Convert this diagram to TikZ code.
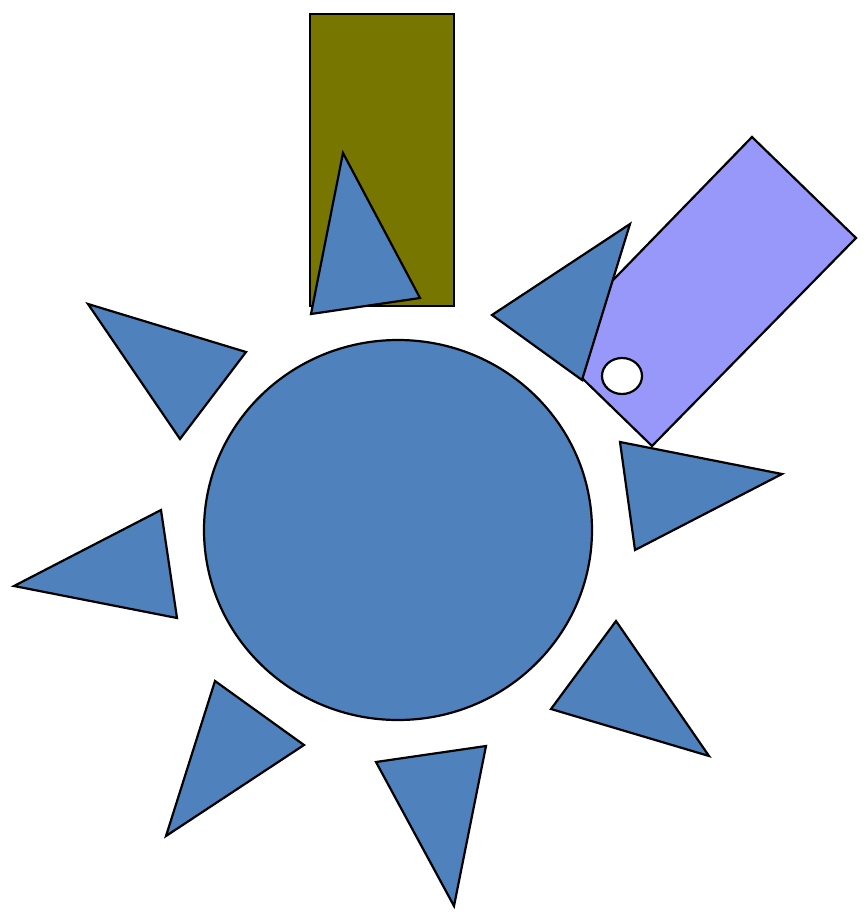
\documentclass[tikz,border=0pt]{standalone}
\usepackage{xcolor}
\usepackage{tikz}

\definecolor{sunblue}{RGB}{79,129,189}
\definecolor{boxolive}{RGB}{118,118,0}
\definecolor{taglilac}{RGB}{152,152,250}

\begin{document}
\begin{tikzpicture}[
    x=1pt, y=-1pt,
    ray/.style={draw, fill=sunblue, line width=2.2pt, line join=miter},
    panel/.style={draw, line width=2.2pt, line join=miter}
]
\useasboundingbox (0,0) rectangle (867,915);

% olive panel with the upper ray
\draw[panel, fill=boxolive] (310,14) rectangle (454,306);
\draw[ray] (343,153) -- (420,298) -- (311,314) -- cycle;

% sun disc
\draw[ray] (398,530) ellipse [x radius=194, y radius=190];

% rays round the disc
\draw[ray] (88,304) -- (246,352) -- (180,439) -- cycle;
\draw[ray] (14,586) -- (161,510) -- (177,618) -- cycle;
\draw[ray] (215,681) -- (304,745) -- (166,836) -- cycle;
\draw[ray] (376,762) -- (486,746) -- (454,906) -- cycle;
\draw[ray] (616,621) -- (709,756) -- (551,709) -- cycle;
\draw[ray] (620,442) -- (782,474) -- (635,550) -- cycle;

% tilted tag with hole
\draw[panel, fill=taglilac] (752,137) -- (856,238) -- (652,446) -- (549,346) -- cycle;
\draw[panel, fill=white] (622,376) ellipse [x radius=20, y radius=18];

\draw[ray] (630,224) -- (492,315) -- (582,380) -- cycle;
\end{tikzpicture}
\end{document}
